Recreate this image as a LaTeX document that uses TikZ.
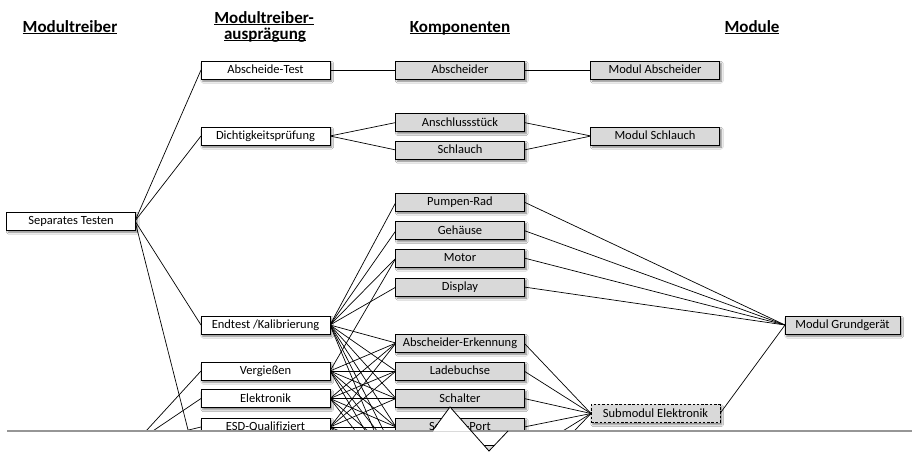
\documentclass[tikz,border=0pt]{standalone}
\usepackage{fontspec}
\setmainfont{Carlito}[Ligatures={NoCommon}]
\usetikzlibrary{shadows.blur}
\definecolor{boxgray}{RGB}{217,217,217}
\definecolor{cutgray}{RGB}{150,150,150}
\newcommand\myul[1]{\setbox0\hbox{#1}\rlap{\rule[-2.4pt]{\wd0}{1.1pt}}\box0}
\begin{document}
\begin{tikzpicture}[x=1pt,y=-1pt,
  box/.style={draw=black, line width=0.9pt, minimum width=129pt, minimum height=18pt, inner sep=0pt,
    text height=8pt, text depth=1pt,
    font=\fontsize{12.5}{13}\selectfont,
    blur shadow={shadow xshift=1.8pt, shadow yshift=-2.2pt, shadow blur steps=4, shadow opacity=50}},
  wbox/.style={box, fill=white},
  gbox/.style={box, fill=boxgray},
  dbox/.style={gbox, dash pattern=on 2.5pt off 1.8pt},
  head/.style={anchor=base, inner sep=0pt, font=\bfseries\fontsize{17}{19}\selectfont},
  conn/.style={line width=0.7pt, black}]
\useasboundingbox (0,0) rectangle (912,453);
\fill[white] (0,0) rectangle (912,453);
\begin{scope}
\clip (0,0) rectangle (912,431);
% headers
\node[head] (h1) at (70,32) {\myul{Modultreiber}};
\node[head] (h2a) at (264,23) {\myul{Modultreiber-}};
\node[head] (h2b) at (265,39) {\myul{ausprägung}};
\node[head] (h3) at (460,32) {\myul{Komponenten}};
\node[head] (h4) at (752,32) {\myul{Module}};
% hidden continuation points below the cut
\coordinate (m2) at (135,443);
\coordinate (t2) at (201,481);
\coordinate (c1w) at (396,455);
\coordinate (c1e) at (524,455);
\coordinate (c2w) at (396,483);
\coordinate (c2e) at (524,483);
% connectors (drawn first, boxes on top)
\begin{scope}[conn]
\coordinate (stE) at (135,221);
\draw (stE) -- (201,70);
\draw (stE) -- (201,136);
\draw (stE) -- (201,325);
\draw (stE) -- (t2);
\draw (m2) -- (201,371);
\draw (m2) -- (201,398.5);
\draw (m2) -- (201,427);
\draw (330,70) -- (396,70);
\draw (330,136) -- (396,122.5);
\draw (330,136) -- (396,150);
\foreach \y in {202,230.5,258,287} \draw (330,325) -- (396,\y);
\draw (330,371) -- (396,258);
\foreach \s in {325,371,398.5,427}
  \foreach \y in {343,371,398.5,427,455,483} \draw (330,\s) -- (396,\y);
\draw (524,70) -- (591,70);
\draw (524,122.5) -- (591,136);
\draw (524,150) -- (591,136);
\foreach \y in {202,230.5,258,287} \draw (524,\y) -- (785,325);
\foreach \y in {343,371,398.5,427,455,483} \draw (524,\y) -- (591,413.5);
\draw (720,413.5) -- (785,325);
\end{scope}
% boxes
\node[wbox] (st) at (71,221) {Separates Testen};
\node[wbox] (at) at (265.5,70) {Abscheide-Test};
\node[wbox] (dp) at (265.5,136) {Dichtigkeitsprüfung};
\node[wbox] (ek) at (265.5,325) {Endtest /Kalibrierung};
\node[wbox] (vg) at (265.5,371) {Vergießen};
\node[wbox] (el) at (265.5,398.5) {Elektronik};
\node[wbox] (esd) at (265.5,427) {ESD-Qualifiziert};
\node[gbox] (ab) at (460,70) {Abscheider};
\node[gbox] (an) at (460,122.5) {Anschlussstück};
\node[gbox] (sl) at (460,150) {Schlauch};
\node[gbox] (pr) at (460,202) {Pumpen-Rad};
\node[gbox] (gh) at (460,230.5) {Gehäuse};
\node[gbox] (mo) at (460,258) {Motor};
\node[gbox] (di) at (460,287) {Display};
\node[gbox] (ae) at (460,343) {Abscheider-Erkennung};
\node[gbox] (lb) at (460,371) {Ladebuchse};
\node[gbox] (sc) at (460,398.5) {Schalter};
\node[gbox] (sp) at (460,427) {Service-Port};
\node[gbox] (ma) at (655,70) {Modul Abscheider};
\node[gbox] (ms) at (655,136) {Modul Schlauch};
\node[gbox, minimum width=115pt] (mg) at (842.5,325) {Modul Grundgerät};
\node[dbox] (se) at (655.5,413.5) {Submodul Elektronik};
\end{scope}
% cut edge
\draw[cutgray, line width=1.3pt] (7,431) -- (912,431);
\fill[white] (433,431.7) -- (450,407) -- (471,431.7) -- cycle;
\fill[boxgray] (484,445) -- (494,445) -- (489,451) -- cycle;
\draw[black, line width=0.8pt] (433,430) -- (450,407) -- (489,451) -- (508,431);
\draw[black, line width=0.6pt] (484,445) -- (494,445);
\end{tikzpicture}
\end{document}
